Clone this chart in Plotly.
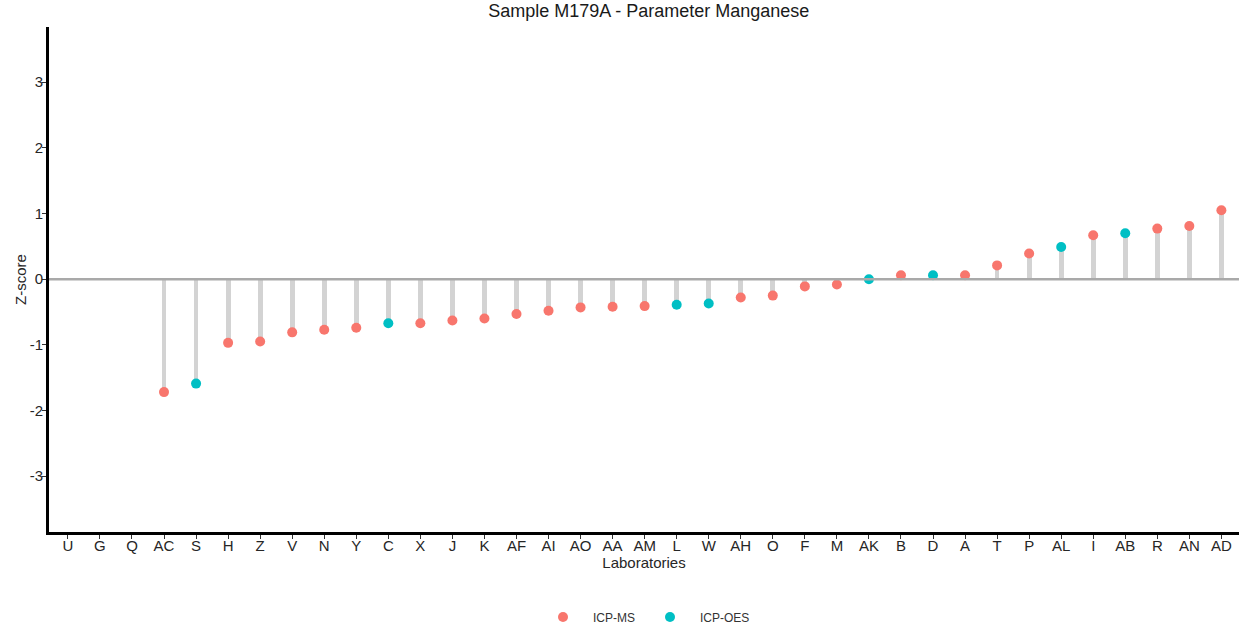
import plotly.graph_objects as go

labs = ["U", "G", "Q", "AC", "S", "H", "Z", "V", "N", "Y", "C", "X", "J", "K", "AF", "AI", "AO",
        "AA", "AM", "L", "W", "AH", "O", "F", "M", "AK", "B", "D", "A", "T", "P", "AL", "I",
        "AB", "R", "AN", "AD"]
zscore = [None, None, None, -1.72, -1.59, -0.97, -0.95, -0.81, -0.77, -0.74, -0.67, -0.67, -0.63,
          -0.60, -0.53, -0.48, -0.43, -0.42, -0.41, -0.39, -0.37, -0.28, -0.25, -0.11, -0.08,
          0.00, 0.06, 0.06, 0.06, 0.21, 0.39, 0.49, 0.67, 0.70, 0.77, 0.81, 1.05]
method = [None, None, None, "ICP-MS", "ICP-OES", "ICP-MS", "ICP-MS", "ICP-MS", "ICP-MS", "ICP-MS",
          "ICP-OES", "ICP-MS", "ICP-MS", "ICP-MS", "ICP-MS", "ICP-MS", "ICP-MS", "ICP-MS",
          "ICP-MS", "ICP-OES", "ICP-OES", "ICP-MS", "ICP-MS", "ICP-MS", "ICP-MS", "ICP-OES",
          "ICP-MS", "ICP-OES", "ICP-MS", "ICP-MS", "ICP-MS", "ICP-OES", "ICP-MS", "ICP-OES",
          "ICP-MS", "ICP-MS", "ICP-MS"]
methods = ["ICP-MS", "ICP-OES"]
colors = {"ICP-MS": "#F8766D", "ICP-OES": "#00BFC4"}
yticks = [-3, -2, -1, 0, 1, 2, 3]
yticktext = ["-3", "-2", "-1", "0", "1", "2", "3"]

font = "Liberation Sans, Arial, sans-serif"
fig = go.Figure()

# stems
fig.add_trace(go.Bar(x=labs, y=zscore, width=0.15, marker=dict(color="#D3D3D3", line_width=0),
                     showlegend=False, hoverinfo="skip"))

# zero line
fig.add_hline(y=0, line=dict(color="#A9A9A9", width=2.5), layer="above")

for m in methods:
    xs = [l for l, mm in zip(labs, method) if mm == m]
    ys = [v for v, mm in zip(zscore, method) if mm == m]
    fig.add_trace(go.Scatter(x=xs, y=ys, mode="markers", name=m,
                             marker=dict(color=colors[m], size=10, line_width=0)))

fig.update_layout(
    width=1239, height=629,
    margin=dict(l=49, r=0, t=27, b=97),
    paper_bgcolor="white", plot_bgcolor="white",
    title=dict(text="Sample M179A - Parameter Manganese", x=0.504, xanchor="center",
               xref="paper", y=1 - 11 / 629, yref="container", yanchor="middle",
               font=dict(family=font, size=18, color="#1a1a1a")),
    font=dict(family=font, color="#1a1a1a"),
    bargap=0,
    showlegend=True,
    legend=dict(orientation="h", x=0.5, xanchor="center", xref="paper",
                y=1 - 617 / 629, yref="container", yanchor="middle",
                font=dict(size=12, color="#333333"), itemwidth=50, tracegroupgap=0),
    xaxis=dict(type="category", categoryorder="array", categoryarray=labs,
               range=[-0.59, 36.55], showgrid=False, zeroline=False, automargin=False,
               showline=True, linecolor="black", linewidth=3,
               ticks="outside", ticklen=4, tickcolor="#333333", tickwidth=1,
               ticklabelstandoff=-6,
               tickfont=dict(size=15, color="#262626"),
               title=dict(text="Laboratories", font=dict(size=15, color="#262626"), standoff=0)),
    yaxis=dict(range=[-3.85, 3.84], tickvals=yticks, ticktext=yticktext,
               showgrid=False, zeroline=False, automargin=False,
               showline=True, linecolor="black", linewidth=3,
               ticks="outside", ticklen=4, tickcolor="#333333", tickwidth=1,
               ticklabelstandoff=-4,
               tickfont=dict(size=15, color="#262626"),
               title=dict(text="Z-score", font=dict(size=15, color="#262626"), standoff=0)),
)

fig.write_html("out.html", config={"displayModeBar": False},
               post_script="document.body.style.margin='0';")
